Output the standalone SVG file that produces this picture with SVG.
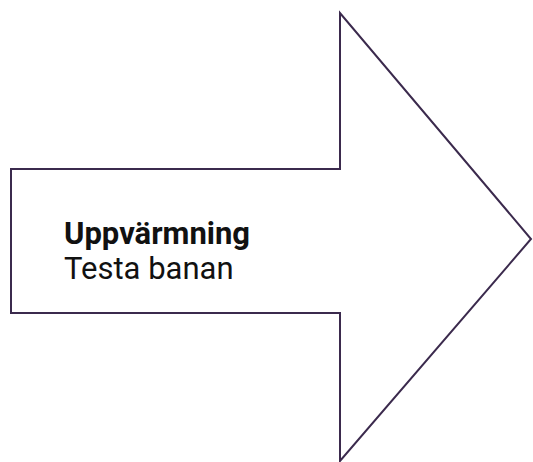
<svg xmlns="http://www.w3.org/2000/svg" width="533" height="462" viewBox="0 0 533 462">
<style>
.shape{fill:#ffffff;stroke:#3b2a4d;stroke-width:2;stroke-linejoin:miter}
.t{font-family:Roboto,"Liberation Sans",sans-serif;font-size:31px;fill:#111111}
.b{font-weight:bold}
</style>
<rect width="533" height="462" fill="#ffffff"/>
<g id="arrow">
<polygon class="shape" points="11,169 340,169 340,13 531,239 340,461 340,313 11,313"/>
<text class="t b" x="64" y="244">Uppvärmning</text>
<text class="t" x="64" y="279">Testa banan</text>
</g>
<g id="connectors"/>
</svg>
